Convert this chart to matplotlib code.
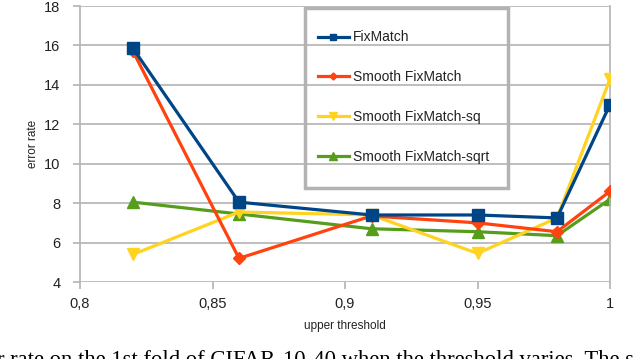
import matplotlib
matplotlib.use('Agg')
import matplotlib.pyplot as plt
from matplotlib.patches import Rectangle

thresholds = [0.82, 0.86, 0.91, 0.95, 0.98, 1.0]
fixmatch = [15.85, 8.05, 7.4, 7.4, 7.25, 13.0]
smooth = [15.7, 5.2, 7.35, 7.0, 6.55, 8.6]
smooth_sq = [5.4, 7.55, 7.4, 5.45, 7.25, 14.3]
smooth_sqrt = [8.05, 7.45, 6.7, 6.55, 6.35, 8.2]

x_ticks = [0.8, 0.85, 0.9, 0.95, 1.0]
x_ticklabels = ['0,8', '0,85', '0,9', '0,95', '1']
y_ticks = [4, 6, 8, 10, 12, 14, 16, 18]

plt.rcParams['font.family'] = ['Liberation Sans', 'DejaVu Sans']

fig = plt.figure(figsize=(6.4, 3.59), dpi=100)
ax = fig.add_axes([80/640, 1-282/359, 530/640, 276/359])

grid = '#b3b3b3'
ax.plot(thresholds, fixmatch, color='#004586', lw=2.3, marker='s', ms=8, label='FixMatch', zorder=5)
ax.plot(thresholds, smooth, color='#ff420e', lw=2.3, marker='D', ms=6, label='Smooth FixMatch', zorder=4)
ax.plot(thresholds, smooth_sq, color='#ffd320', lw=2.3, marker='v', ms=9, label='Smooth FixMatch-sq', zorder=3)
ax.plot(thresholds, smooth_sqrt, color='#579d1c', lw=2.3, marker='^', ms=9, label='Smooth FixMatch-sqrt', zorder=2)

ax.set_xlim(0.8, 1.0)
ax.set_ylim(4, 18)
ax.set_xticks(x_ticks)
ax.set_xticklabels(x_ticklabels)
ax.set_yticks(y_ticks)
ax.yaxis.grid(True, color=grid, lw=1.2)
ax.set_axisbelow(True)
for side in ['top', 'bottom']:
    ax.spines[side].set_visible(False)
for side in ['left', 'right']:
    ax.spines[side].set_color(grid)
    ax.spines[side].set_linewidth(1.2)
ax.tick_params(axis='both', colors=grid, length=5, width=1.2, labelsize=10.5,
               labelcolor='#222222')
ax.tick_params(axis='x', pad=6)
ax.tick_params(axis='y', pad=9)

ax.set_ylabel('error rate', fontsize=8.5, color='#222222', labelpad=4)
ax.set_xlabel('upper threshold', fontsize=8.5, color='#222222', labelpad=6)

leg = ax.legend(loc='center left', bbox_to_anchor=(311/640, 1-97/359),
                bbox_transform=fig.transFigure, frameon=False, fontsize=10,
                borderpad=0, labelspacing=1.85, handlelength=2.2,
                handletextpad=0.3, markerscale=0.6)
for t in leg.get_texts():
    t.set_color('#222222')
fig.patches.append(Rectangle((305/640, 1-188/359), 203/640, 180/359,
                             transform=fig.transFigure, fill=False,
                             edgecolor=grid, lw=2.5, zorder=10))

fig.text(-3/640, -7/359,
         'r rate on the 1st fold of CIFAR-10-40 when the threshold varies. The s',
         family='Liberation Serif', fontsize=16.3, ha='left', va='baseline')

fig.savefig('out.png', dpi=100)
